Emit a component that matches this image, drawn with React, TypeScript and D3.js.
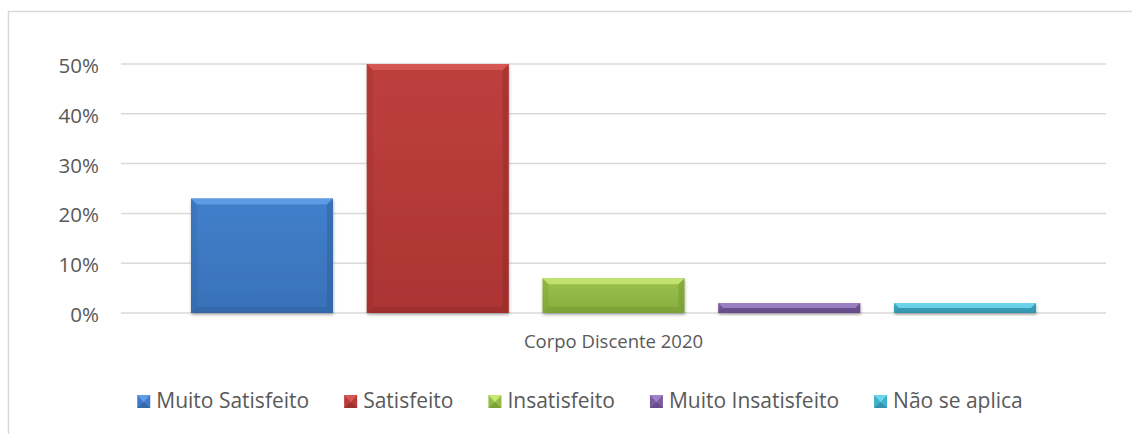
import { useEffect, useRef } from "react";
import * as d3 from "d3";

// dados do gráfico
const category = "Corpo Discente 2020";
const seriesNames = [
  "Muito Satisfeito",
  "Satisfeito",
  "Insatisfeito",
  "Muito Insatisfeito",
  "Não se aplica",
];
const seriesValues = [0.23, 0.5, 0.07, 0.02, 0.02];
const yTicks = [0, 0.1, 0.2, 0.3, 0.4, 0.5];

// cores (base, claro, escuro)
const baseColors = ["#3d7bc7", "#b93b39", "#93bb45", "#7a5c9e", "#3fb0cc"];
const lightColors = ["#69a6ee", "#e0605c", "#d2f27e", "#a98bd0", "#7ae0f5"];
const darkColors = ["#2b5a93", "#8a2826", "#6d8c2e", "#573f78", "#2a7f96"];

const W = 1132;
const H = 434;
const FONT = "'Open Sans', 'Noto Sans', sans-serif";

export default function App() {
  const ref = useRef<SVGSVGElement>(null);

  useEffect(() => {
    const svg = d3.select(ref.current);
    svg.selectAll("*").remove();

    const plotLeft = 121;
    const plotRight = 1106;
    const plotTop = 64;
    const plotBottom = 313;

    const defs = svg.append("defs");
    const shadow = defs
      .append("filter")
      .attr("id", "shadow")
      .attr("x", "-10%")
      .attr("y", "-10%")
      .attr("width", "120%")
      .attr("height", "140%");
    shadow
      .append("feDropShadow")
      .attr("dx", 0.5)
      .attr("dy", 2)
      .attr("stdDeviation", 1.5)
      .attr("flood-color", "#000")
      .attr("flood-opacity", 0.3);

    seriesNames.forEach((_, i) => {
      const g = defs
        .append("linearGradient")
        .attr("id", "grad" + i)
        .attr("x1", 0)
        .attr("y1", 0)
        .attr("x2", 0)
        .attr("y2", 1);
      g.append("stop").attr("offset", "0%").attr("stop-color", d3.interpolateRgb(baseColors[i], lightColors[i])(0.12));
      g.append("stop").attr("offset", "100%").attr("stop-color", d3.interpolateRgb(baseColors[i], darkColors[i])(0.3));
    });

    // moldura
    svg
      .append("rect")
      .attr("x", 8.5)
      .attr("y", 11.5)
      .attr("width", 1160)
      .attr("height", 460)
      .attr("fill", "#fff")
      .attr("stroke", "#d9d9d9")
      .attr("stroke-width", 1.5);

    const y = d3.scaleLinear().domain([0, 0.5]).range([plotBottom, plotTop]);
    const x0 = d3
      .scaleBand<string>()
      .domain([category])
      .range([plotLeft, plotRight])
      .paddingInner(0)
      .paddingOuter(0.0828);
    const x1 = d3
      .scaleBand<string>()
      .domain(seriesNames)
      .range([0, x0.bandwidth()])
      .paddingInner(0.192)
      .paddingOuter(0);

    // grade
    svg
      .append("g")
      .selectAll("line")
      .data(yTicks)
      .join("line")
      .attr("x1", plotLeft)
      .attr("x2", plotRight)
      .attr("y1", (d) => y(d))
      .attr("y2", (d) => y(d))
      .attr("stroke", "#d9d9d9")
      .attr("stroke-width", 1.5);

    // rótulos do eixo y
    svg
      .append("g")
      .selectAll("text")
      .data(yTicks)
      .join("text")
      .attr("x", 99)
      .attr("y", (d) => y(d) + 1)
      .attr("text-anchor", "end")
      .attr("dominant-baseline", "central")
      .attr("font-family", FONT)
      .attr("font-size", 20.5)
      .attr("fill", "#595959")
      .text((d) => d3.format(".0%")(d));

    // barras com bisel
    const bars = svg
      .append("g")
      .attr("transform", `translate(${x0(category)},0)`)
      .selectAll("g")
      .data(seriesValues)
      .join("g")
      .attr("transform", (_, i) => `translate(${x1(seriesNames[i])},0)`);

    bars.each(function (v, i) {
      const g = d3.select(this);
      const w = x1.bandwidth();
      const top = y(v);
      const h = plotBottom - top;
      const b = Math.min(6, h / 2);
      g.append("rect")
        .attr("x", 0)
        .attr("y", top)
        .attr("width", w)
        .attr("height", h)
        .attr("fill", `url(#grad${i})`)
        .attr("filter", "url(#shadow)");
      // topo claro
      g.append("path")
        .attr("d", `M0,${top}L${w},${top}L${w - b},${top + b}L${b},${top + b}Z`)
        .attr("fill", lightColors[i])
        .attr("opacity", 0.7);
      // base escura
      g.append("path")
        .attr("d", `M0,${plotBottom}L${w},${plotBottom}L${w - b},${plotBottom - b}L${b},${plotBottom - b}Z`)
        .attr("fill", darkColors[i])
        .attr("opacity", 0.35);
      // laterais
      g.append("path")
        .attr("d", `M0,${top}L${b},${top + b}L${b},${plotBottom - b}L0,${plotBottom}Z`)
        .attr("fill", darkColors[i])
        .attr("opacity", 0.2);
      g.append("path")
        .attr("d", `M${w},${top}L${w - b},${top + b}L${w - b},${plotBottom - b}L${w},${plotBottom}Z`)
        .attr("fill", darkColors[i])
        .attr("opacity", 0.4);
    });

    // rótulo da categoria
    svg
      .append("text")
      .attr("x", (x0(category) ?? 0) + x0.bandwidth() / 2)
      .attr("y", 348)
      .attr("text-anchor", "middle")
      .attr("font-family", FONT)
      .attr("font-size", 18.5)
      .attr("fill", "#595959")
      .text(category);

    // legenda
    const legend = svg.append("g");
    const items = legend
      .selectAll("g")
      .data(seriesNames)
      .join("g");
    items
      .append("text")
      .attr("x", 19)
      .attr("y", 408)
      .attr("font-family", FONT)
      .attr("font-size", 21)
      .attr("fill", "#595959")
      .text((d) => d);
    let cursor = 0;
    const gap = 35;
    items.each(function (_, i) {
      const g = d3.select(this);
      const tw = (g.select("text").node() as SVGTextElement).getComputedTextLength();
      g.attr("transform", `translate(${cursor},0)`);
      const m = 13;
      const my = 395;
      g.append("rect")
        .attr("x", 0)
        .attr("y", my)
        .attr("width", m)
        .attr("height", m)
        .attr("fill", baseColors[i]);
      g.append("path")
        .attr("d", `M0,${my}L${m},${my}L${m / 2},${my + m * 0.55}Z`)
        .attr("fill", lightColors[i])
        .attr("opacity", 0.8);
      g.append("path")
        .attr("d", `M0,${my + m}L${m},${my + m}L${m / 2},${my + m * 0.55}Z`)
        .attr("fill", darkColors[i])
        .attr("opacity", 0.6);
      cursor += 19 + tw + gap;
    });
    const total = cursor - gap;
    legend.attr("transform", `translate(${580 - total / 2},0)`);
  }, []);

  return (
    <svg
      ref={ref}
      width={W}
      height={H}
      style={{ position: "absolute", left: 0, top: 0, background: "#fff" }}
    />
  );
}
